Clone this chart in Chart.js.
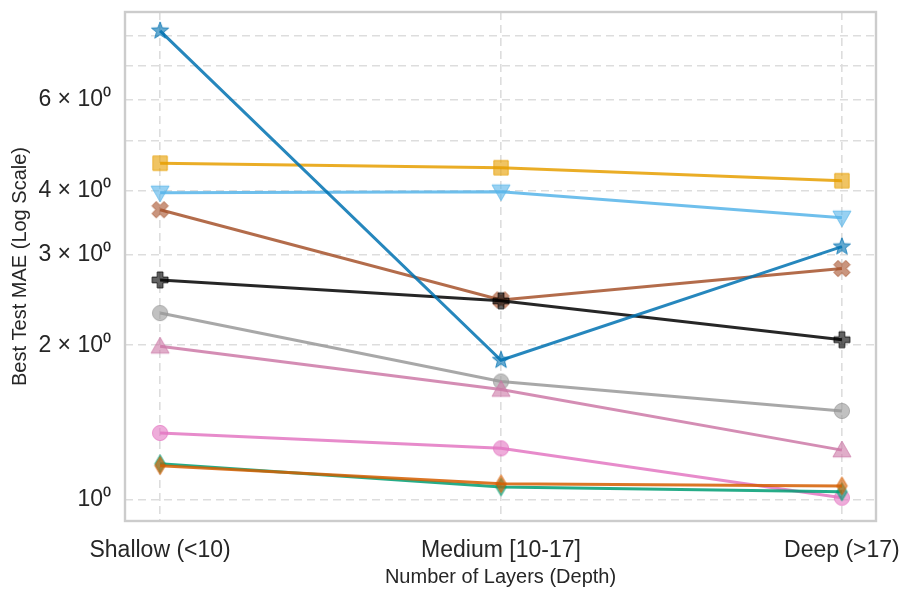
<!DOCTYPE html>
<html>
<head>
<meta charset="utf-8">
<script src="https://cdn.jsdelivr.net/npm/chart.js@4/dist/chart.umd.min.js"></script>
<style>body{margin:0;background:#fff}canvas{display:block}</style>
</head>
<body>
<canvas id="chart" width="914" height="599"></canvas>
<script>
// categories
var depthLabels=['Shallow (<10)','Medium [10-17]','Deep (>17)'];
// y ticks (log scale), labels only on some of them
var yTickValues=[1,2,3,4,5,6,7,8];
var yTickLabels=['10\u2070','2 \u00d7 10\u2070','3 \u00d7 10\u2070','4 \u00d7 10\u2070','','6 \u00d7 10\u2070','',''];
// series values (one per depth bucket)
var starBlue=[8.18,1.87,3.11];
var squareOrange=[4.52,4.43,4.18];
var triDownSky=[3.96,3.98,3.54];
var crossBrown=[3.67,2.45,2.82];
var plusBlack=[2.68,2.44,2.05];
var circleGray=[2.31,1.70,1.49];
var triUpPink=[1.99,1.64,1.25];
var circlePink=[1.35,1.26,1.01];
var diamondGreen=[1.176,1.06,1.037];
var diamondOrange=[1.166,1.075,1.065];

//画marker到小canvas上
function makeMarker(shape,color,size){
	var c=document.createElement('canvas');
	var s=size+4;
	c.width=s;c.height=s;
	var g=c.getContext('2d');
	var m=s/2,r=size/2;
	g.beginPath();
	if(shape=='star'){
		for(var i=0;i<10;i++){
			var rr=i%2==0?r:r*0.42;
			var a=-Math.PI/2+i*Math.PI/5;
			g.lineTo(m+rr*Math.cos(a),m+rr*Math.sin(a));
		}
	}else if(shape=='square'){
		g.rect(m-r*0.9,m-r*0.9,r*1.8,r*1.8);
	}else if(shape=='tridown'){
		g.moveTo(m-r,m-r*0.75);g.lineTo(m+r,m-r*0.75);g.lineTo(m,m+r);
	}else if(shape=='triup'){
		g.moveTo(m-r,m+r*0.75);g.lineTo(m+r,m+r*0.75);g.lineTo(m,m-r);
	}else if(shape=='circle'){
		g.arc(m,m,r*0.95,0,Math.PI*2);
	}else if(shape=='diamond'){
		g.moveTo(m,m-r*1.05);g.lineTo(m+r*0.62,m);g.lineTo(m,m+r*1.05);g.lineTo(m-r*0.62,m);
	}else if(shape=='plus'||shape=='x'){
		var w=r*0.36;
		var pts=[[-w,-r],[w,-r],[w,-w],[r,-w],[r,w],[w,w],[w,r],[-w,r],[-w,w],[-r,w],[-r,-w],[-w,-w]];
		var rot=shape=='x'?Math.PI/4:0;
		for(var k=0;k<pts.length;k++){
			var px=pts[k][0],py=pts[k][1];
			g.lineTo(m+px*Math.cos(rot)-py*Math.sin(rot),m+px*Math.sin(rot)+py*Math.cos(rot));
		}
	}
	g.closePath();
	g.globalAlpha=0.72;
	g.fillStyle=color;
	g.fill();
	g.globalAlpha=0.9;
	g.lineWidth=1;
	g.strokeStyle=color;
	g.stroke();
	return c;
}

function series(values,color,shape,size){
	var pts=[];
	for(var i=0;i<values.length;i++){pts.push({x:i,y:values[i]});}
	return {
		data:pts,
		borderColor:color,
		borderWidth:3,
		pointStyle:makeMarker(shape,color,size||16),
		pointRadius:8,
		fill:false,
		tension:0
	};
}

function hexA(hex,a){
	var n=parseInt(hex.slice(1),16);
	return 'rgba('+(n>>16)+','+((n>>8)&255)+','+(n&255)+','+a+')';
}

var datasets=[
	series(starBlue,hexA('#0072b2',0.85),'star',18),
	series(diamondOrange,hexA('#d55e00',0.85),'diamond',17),
	series(diamondGreen,hexA('#009e73',0.85),'diamond',17),
	series(circlePink,hexA('#e377c2',0.85),'circle',16),
	series(triUpPink,hexA('#cc79a7',0.85),'triup',18),
	series(circleGray,hexA('#999999',0.85),'circle',16),
	series(plusBlack,hexA('#000000',0.85),'plus',16),
	series(crossBrown,hexA('#a6522c',0.85),'x',17),
	series(triDownSky,hexA('#56b4e9',0.85),'tridown',18),
	series(squareOrange,hexA('#e69f00',0.85),'square',16)
];

//画外框
var boxPlugin={
	id:'box',
	afterDraw:function(chart){
		var a=chart.chartArea,g=chart.ctx;
		g.save();
		g.strokeStyle='#cccccc';
		g.lineWidth=2.4;
		g.strokeRect(a.left,a.top,a.right-a.left,a.bottom-a.top);
		g.restore();
	}
};

var tickFont={family:'Liberation Sans',size:23};
var titleFont={family:'Liberation Sans',size:20};
new Chart(document.getElementById('chart').getContext('2d'),{
	type:'line',
	data:{datasets:datasets},
	options:{
		responsive:false,
		animation:false,
		layout:{padding:{left:0,right:38,top:12,bottom:0}},
		plugins:{legend:{display:false},tooltip:{enabled:false}},
		scales:{
			x:{
				type:'linear',
				min:-0.103,max:2.1,
				afterBuildTicks:function(s){s.ticks=[0,1,2].map(function(v){return {value:v};});},
				afterFit:function(s){s.height=78;s.paddingLeft=0;s.paddingRight=0;},
				ticks:{
					callback:function(v){return depthLabels[v];},
					font:tickFont,color:'#262626',padding:16,maxRotation:0,autoSkip:false
				},
				grid:{color:'#dddddd',lineWidth:1.6,drawTicks:false},
				border:{display:false,dash:[8,5]},
				title:{display:true,text:'Number of Layers (Depth)',font:titleFont,color:'#262626',padding:{top:0,bottom:10}}
			},
			y:{
				type:'logarithmic',
				min:0.91,max:8.9,
				afterBuildTicks:function(s){s.ticks=yTickValues.map(function(v){return {value:v};});},
				afterFit:function(s){s.width=125;s.paddingTop=0;s.paddingBottom=0;},
				ticks:{
					callback:function(v){var i=yTickValues.indexOf(v);return i<0?'':yTickLabels[i];},
					font:tickFont,color:'#262626',padding:14,autoSkip:false
				},
				grid:{color:'#dddddd',lineWidth:1.6,drawTicks:false},
				border:{display:false,dash:[8,5]},
				title:{display:true,text:'Best Test MAE (Log Scale)',font:titleFont,color:'#262626',padding:{top:8,bottom:0}}
			}
		}
	},
	plugins:[boxPlugin]
});
</script>
</body>
</html>
